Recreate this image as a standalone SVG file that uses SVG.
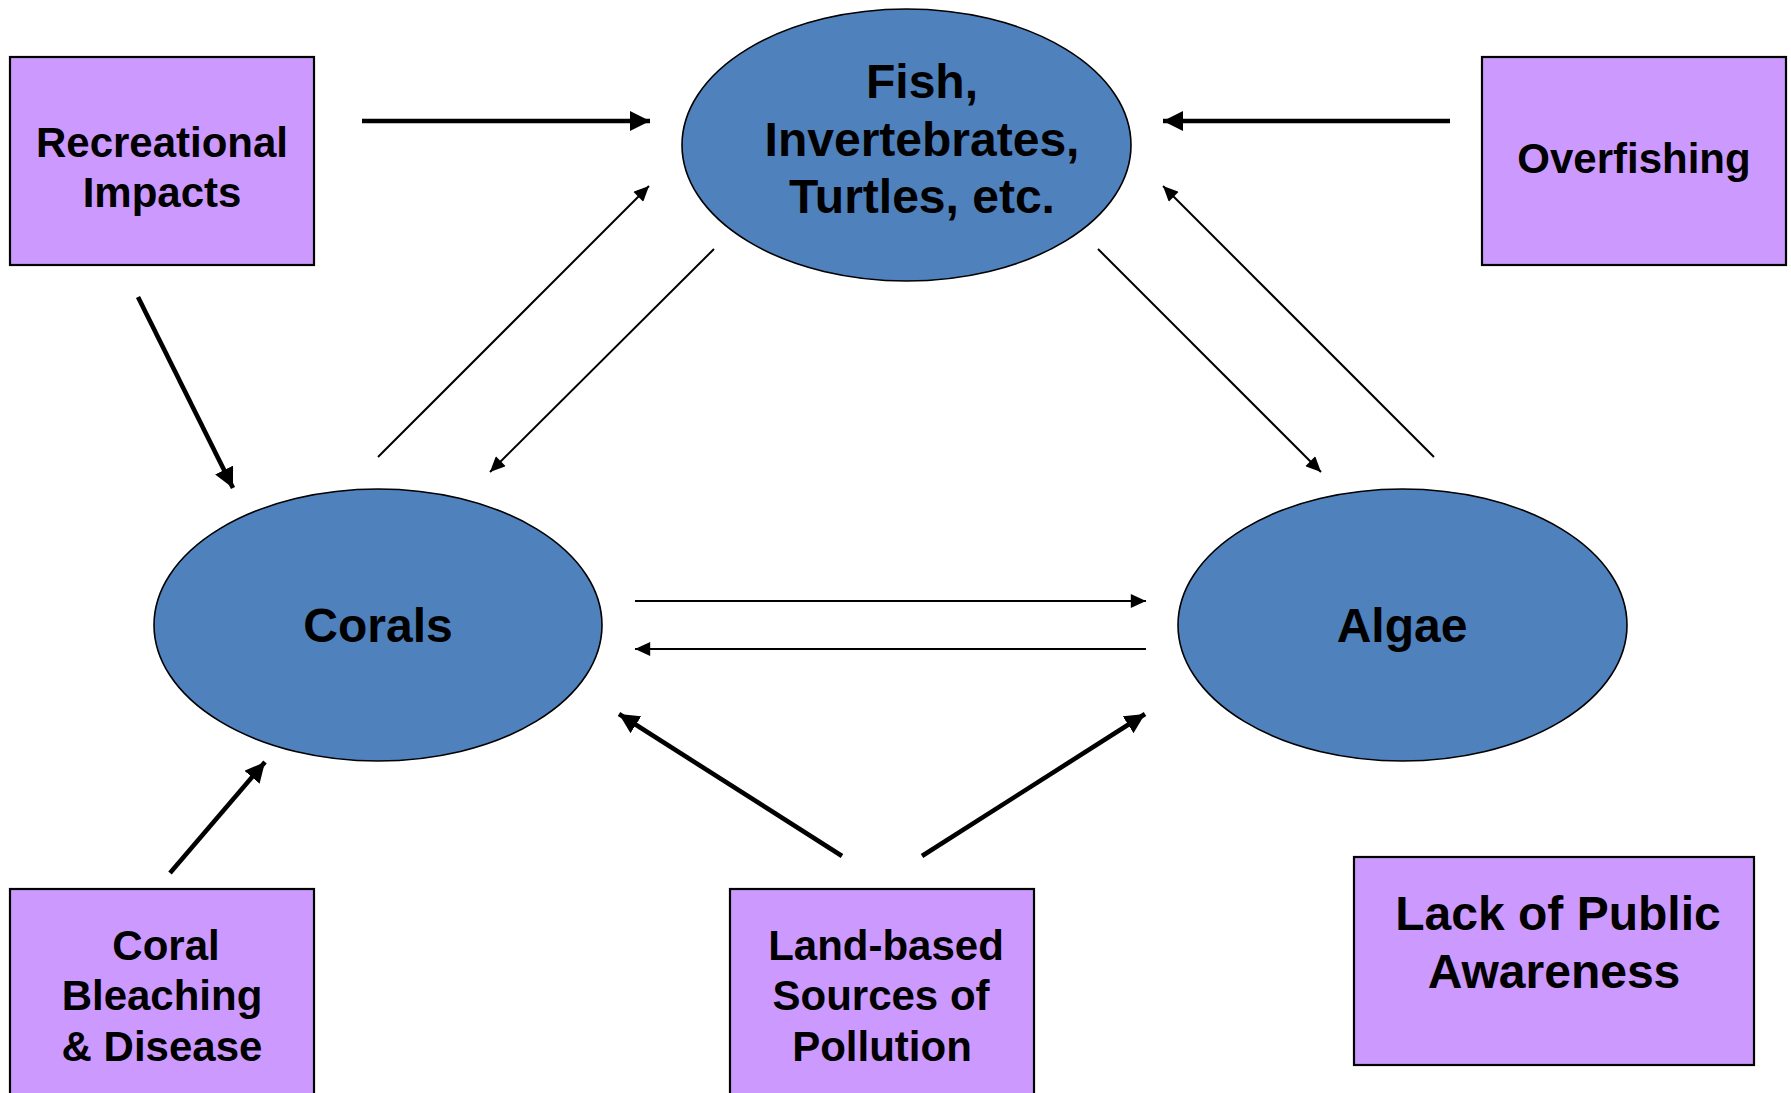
<svg xmlns="http://www.w3.org/2000/svg" width="1791" height="1093" viewBox="0 0 1791 1093">
<style>
.box{fill:#CC99FF;stroke:#000;stroke-width:2.2}
.ell{fill:#4F81BD;stroke:#000;stroke-width:1.6}
.t{font-family:"Liberation Sans",Arial,sans-serif;font-weight:bold;fill:#000;text-anchor:middle}
.s{font-size:42px}
.b{font-size:48px}
.thick{stroke:#000;stroke-width:4.6;fill:none;marker-end:url(#ah)}
.thin{stroke:#000;stroke-width:2;fill:none;marker-end:url(#as)}
</style>
<defs>
<marker id="ah" markerUnits="userSpaceOnUse" markerWidth="20" markerHeight="20" refX="18" refY="9" orient="auto" viewBox="0 0 18 18">
<path d="M0,0 L18,9 L0,18 Z" fill="#000"/>
</marker>
<marker id="as" markerUnits="userSpaceOnUse" markerWidth="16" markerHeight="14" refX="13" refY="6" orient="auto" viewBox="0 0 13 12">
<path d="M0,0 L13,6 L0,12 Z" fill="#000"/>
</marker>
</defs>
<rect width="1791" height="1093" fill="#fff"/>
<g id="fish">
<ellipse class="ell" cx="906.5" cy="145" rx="224.5" ry="136"/>
<text class="t b" x="922" y="98">Fish,</text>
<text class="t b" x="922" y="156">Invertebrates,</text>
<text class="t b" x="922" y="213">Turtles, etc.</text>
</g>
<g id="corals">
<ellipse class="ell" cx="378" cy="625" rx="224" ry="136"/>
<text class="t b" x="378" y="642">Corals</text>
</g>
<g id="algae">
<ellipse class="ell" cx="1402.5" cy="625" rx="224.5" ry="136"/>
<text class="t b" x="1402" y="642">Algae</text>
</g>
<g id="recreational">
<rect class="box" x="10" y="57" width="304" height="208"/>
<text class="t s" x="162" y="157">Recreational</text>
<text class="t s" x="162" y="207">Impacts</text>
</g>
<g id="overfishing">
<rect class="box" x="1482" y="57" width="304" height="208"/>
<text class="t s" x="1634" y="173">Overfishing</text>
</g>
<g id="bleaching">
<rect class="box" x="10" y="889" width="304" height="220"/>
<text class="t s" x="166" y="960">Coral</text>
<text class="t s" x="162" y="1010">Bleaching</text>
<text class="t s" x="162" y="1061">&amp; Disease</text>
</g>
<g id="pollution">
<rect class="box" x="730" y="889" width="304" height="220"/>
<text class="t s" x="886" y="960">Land-based</text>
<text class="t s" x="881" y="1010">Sources of</text>
<text class="t s" x="882" y="1061">Pollution</text>
</g>
<g id="awareness">
<rect class="box" x="1354" y="857" width="400" height="208"/>
<text class="t b" x="1558" y="930">Lack of Public</text>
<text class="t b" x="1554" y="988">Awareness</text>
</g>
<g id="connectors">
<line class="thick" x1="362" y1="121" x2="650" y2="121"/>
<line class="thick" x1="1450" y1="121" x2="1163" y2="121"/>
<line class="thick" x1="138" y1="297" x2="233" y2="488"/>
<line class="thick" x1="170" y1="873" x2="265" y2="762"/>
<line class="thick" x1="842" y1="856" x2="619" y2="714"/>
<line class="thick" x1="922" y1="856" x2="1145" y2="714"/>
<line class="thin" x1="378" y1="457" x2="649" y2="186"/>
<line class="thin" x1="714" y1="249" x2="490" y2="472"/>
<line class="thin" x1="1098" y1="249" x2="1321" y2="472"/>
<line class="thin" x1="1434" y1="457" x2="1163" y2="186"/>
<line class="thin" x1="635" y1="601" x2="1146" y2="601"/>
<line class="thin" x1="1146" y1="649" x2="635" y2="649"/>
</g>
</svg>
